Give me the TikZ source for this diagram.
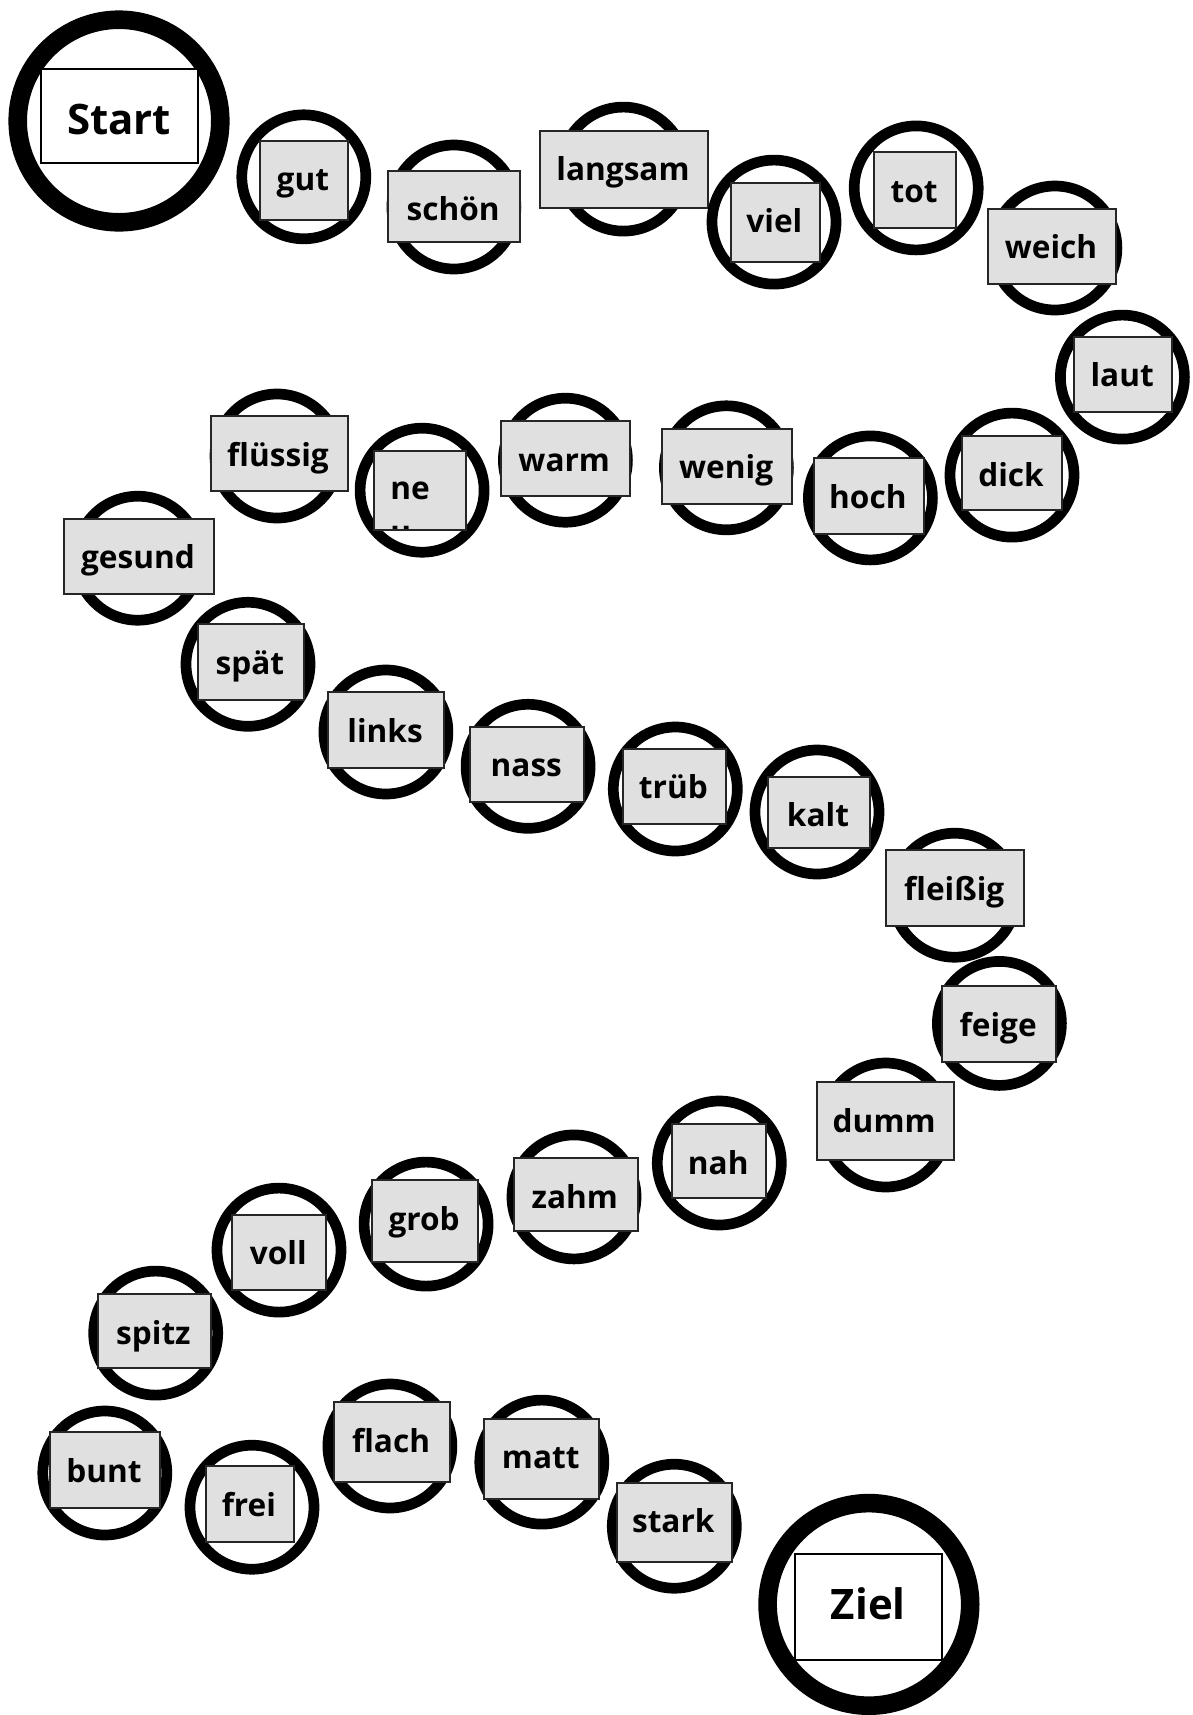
\documentclass[tikz,border=0pt]{standalone}
\usepackage{fontspec}
\setmainfont{Open Sans}
\usetikzlibrary{fit}
\definecolor{tilefill}{RGB}{224,224,224}
\tikzset{
  ring/.style={circle, draw=black, line width=5.35pt, minimum size=62pt, inner sep=0pt, outer sep=0pt},
  bigring/.style={circle, draw=black, line width=9.3pt, minimum size=101.3pt, inner sep=0pt, outer sep=0pt},
  tile/.style={rectangle, draw=black!85, line width=1pt, fill=tilefill, inner sep=0pt, outer sep=0pt},
  bigtile/.style={rectangle, draw=black, line width=1pt, fill=white, inner sep=0pt, outer sep=0pt},
  lbl/.style={anchor=base, inner sep=0pt, font=\bfseries\fontsize{15.8pt}{21pt}\selectfont},
  biglbl/.style={anchor=base, inner sep=0pt, font=\bfseries\fontsize{21pt}{26pt}\selectfont},
}
\newcommand\Stone[8]{%
  \node[ring] (c#1) at (#2,#3) {};
  \node[tile, fit={(#4,#5) (#6,#7)}] (b#1) {};
  \node[lbl] (t#1) at ({(#4+#6)/2-1},{#5+50}) {#8};
}
\begin{document}
\begin{tikzpicture}[x=0.5pt,y=-0.5pt]
\useasboundingbox (0,0) rectangle (1193,1715);
% Start
\node[bigring] (cstart) at (119,121) {};
\node[bigtile, fit={(40.6,68.9) (197.5,163.4)}] (bstart) {};
\node[biglbl] (tstart) at ({(40.6+197.5)/2},{68.9+65.5}) {Start};
\Stone{1}{303.8}{176.8}{260.2}{140.8}{347.5}{219.7}{gut}
\Stone{2}{453.9}{207.0}{388.4}{170.7}{520.1}{241.5}{schön}
\Stone{3}{623.3}{169.1}{540.2}{130.9}{707.8}{207.8}{langsam}
\Stone{4}{774}{222.1}{730.8}{182.9}{819.9}{262.1}{viel}
\Stone{5}{916.2}{187.9}{874.3}{152.3}{955.8}{228.1}{tot}
\Stone{6}{1054.9}{248}{988.3}{208.6}{1115.7}{283.6}{weich}
\Stone{7}{1122.4}{377.1}{1074.4}{336.7}{1172}{411.7}{laut}
\Stone{8}{1012}{475.1}{962.3}{436.2}{1061.8}{510.1}{dick}
\Stone{9}{870.4}{497.9}{814.2}{458.4}{923.6}{533.8}{hoch}
\Stone{10}{726.4}{467.8}{662.3}{428.6}{792}{503.6}{wenig}
\Stone{11}{565.4}{460.2}{500.5}{421}{630}{495.6}{warm}
% neu (text wrapped and clipped)
\node[ring] (c12) at (422.1,490.2) {};
\node[tile, fit={(374.2,450.8) (465.7,530)}] (b12) {};
\begin{scope}
  \clip (b12.south west) rectangle (b12.north east);
  \node[lbl, anchor=base west] (t12) at (390,499.5) {ne};
  \node[lbl, anchor=base west] (t12b) at (390,543) {u};
\end{scope}
\draw[draw=black!85, line width=1pt] (b12.south west) rectangle (b12.north east);
\Stone{13}{277}{456}{210.5}{416.3}{347.5}{491.4}{flüssig}
\Stone{14}{137.8}{558.2}{64.3}{518.9}{213.5}{593.5}{gesund}
\Stone{15}{248}{664.3}{198.2}{624.3}{303.5}{700}{spät}
\Stone{16}{385.9}{732}{328.3}{692.4}{443.9}{767.8}{links}
\Stone{17}{528.1}{766.3}{470.3}{726.5}{584.3}{801.8}{nass}
\Stone{18}{675.3}{789}{622.5}{748.7}{726.2}{824}{trüb}
\Stone{19}{817}{812}{767.9}{776.6}{870}{847.8}{kalt}
\Stone{20}{954.6}{895.2}{886.1}{850}{1024.3}{925.8}{fleißig}
\Stone{21}{999.4}{1023.4}{942}{986.3}{1056.4}{1062}{feige}
\Stone{22}{885.7}{1125}{816.5}{1082}{953.8}{1159.8}{dumm}
\Stone{23}{719.3}{1163}{672.2}{1124}{766.3}{1197.7}{nah}
\Stone{24}{574}{1196.9}{513.9}{1158.2}{637.8}{1231.3}{zahm}
\Stone{25}{426.1}{1224.1}{371.9}{1180.4}{478.3}{1262}{grob}
\Stone{26}{279}{1250.1}{232.3}{1214.5}{326.4}{1289.9}{voll}
\Stone{27}{155.7}{1333.1}{98.3}{1294.1}{210.5}{1367.6}{spitz}
\Stone{28}{104.8}{1473}{50.1}{1432.2}{160}{1508}{bunt}
\Stone{29}{252}{1507.2}{205.9}{1466.3}{293.9}{1541.7}{frei}
\Stone{30}{389.9}{1446}{334.1}{1402}{450}{1481.6}{flach}
\Stone{31}{541.8}{1462.1}{484.4}{1418.8}{599.1}{1499.2}{matt}
\Stone{32}{674.3}{1526.2}{616.7}{1482.7}{731.9}{1561.6}{stark}
% Ziel
\node[bigring] (cziel) at (868.9,1604.4) {};
\node[bigtile, fit={(794.7,1554.3) (942,1659.5)}] (bziel) {};
\node[biglbl] (tziel) at ({(794.7+942)/2},{1554.3+65.5}) {Ziel};
\end{tikzpicture}
\end{document}
